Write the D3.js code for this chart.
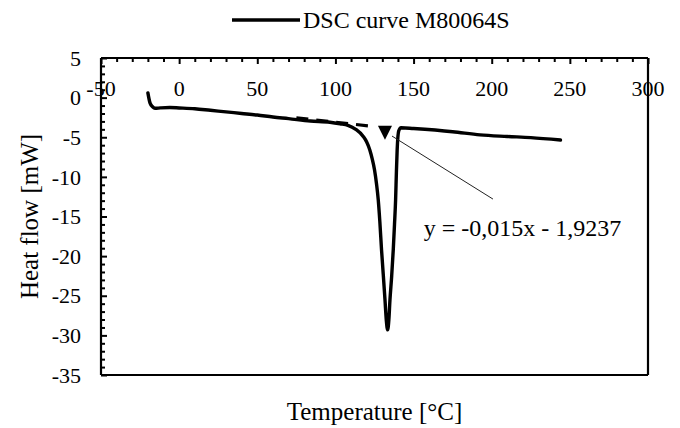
<!DOCTYPE html>
<html>
<head>
<meta charset="utf-8">
<script src="https://cdn.jsdelivr.net/npm/d3@7"></script>
<style>
html,body{margin:0;padding:0;background:#fff;}
svg{display:block;font-family:"Liberation Serif","Times New Roman",serif;}
</style>
</head>
<body>
<svg id="chart" width="680" height="428"></svg>
<script>
// ---- data ----
const temperature = [-20, -18.6, -17, -15.5, -12, -6, 0, 10, 20, 30, 40, 50, 60, 70, 84, 96.5, 103, 108, 113, 117.8, 120, 122, 123.5, 125, 126.3, 127.4, 128.4, 129.5, 130.6, 131.7, 132.6, 133.4, 134.2, 134.9, 136, 137, 137.8, 138.5, 139, 139.5, 140.5, 142, 150, 175, 192.5, 210, 225, 244];
const heatFlow    = [0.6, -0.7, -1.15, -1.35, -1.3, -1.25, -1.3, -1.4, -1.6, -1.8, -2.0, -2.2, -2.45, -2.65, -2.95, -3.1, -3.3, -3.5, -4.0, -4.9, -5.6, -6.6, -7.7, -9.1, -10.9, -12.9, -15.6, -19.2, -22.3, -25.5, -28.2, -29.3, -28, -25.5, -22.5, -19.2, -16, -12.9, -9.5, -6.6, -4.2, -3.8, -3.9, -4.3, -4.7, -4.9, -5.05, -5.35];
const trendX = [75, 125];
const trendY = [-2.55, -3.65];
const markerPoint = [131.7, -4.3];
const leaderFrom = [136.2, -4.85];
const leaderTo = [200.8, -12.8];
const equationAt = [156.5, -17.4];
const xTicks = [-50, 0, 50, 100, 150, 200, 250, 300];
const yTicks = [5, 0, -5, -10, -15, -20, -25, -30, -35];
const seriesName = "DSC curve M80064S";
const equationText = "y = -0,015x - 1,9237";
const xTitle = "Temperature [°C]";
const yTitle = "Heat flow [mW]";

// ---- layout ----
const svg = d3.select("#chart");
const L = 101, R = 648, T = 58, B = 375;
const x = d3.scaleLinear().domain([-50, 300]).range([L, R]);
const y = d3.scaleLinear().domain([-35, 5]).range([B, T]);

// frame (right and bottom)
svg.append("line").attr("x1", R).attr("x2", R).attr("y1", T).attr("y2", B).attr("stroke", "#000").attr("stroke-width", 2.2);
svg.append("line").attr("x1", L).attr("x2", R).attr("y1", B).attr("y2", B).attr("stroke", "#000").attr("stroke-width", 2.2);

// top x axis (ticks inward)
const xMinor = d3.range(-50, 301, 10).filter(v => v % 50 !== 0);
const xAx = svg.append("g").attr("transform", `translate(0,${T})`);
xAx.call(d3.axisBottom(x).tickValues(xTicks).tickSize(6).tickFormat(""));
xAx.append("g").call(d3.axisBottom(x).tickValues(xMinor).tickSize(4).tickFormat(""));
xAx.selectAll(".domain").remove();
xAx.selectAll("line").attr("stroke", "#000").attr("stroke-width", 2);
svg.append("line").attr("x1", L).attr("x2", R).attr("y1", T).attr("y2", T).attr("stroke", "#000").attr("stroke-width", 2.2);
svg.append("g").selectAll("text").data(xTicks).join("text")
  .attr("x", d => x(d)).attr("y", 96)
  .attr("text-anchor", "middle").attr("font-size", 22).attr("fill", "#000")
  .text(d => d);

// left y axis (ticks inward)
const yMinor = d3.range(-35, 5.01, 1).filter(v => v % 5 !== 0);
const yAx = svg.append("g").attr("transform", `translate(${L},0)`);
yAx.call(d3.axisRight(y).tickValues(yTicks).tickSize(6).tickFormat(""));
yAx.append("g").call(d3.axisRight(y).tickValues(yMinor).tickSize(4).tickFormat(""));
yAx.selectAll(".domain").remove();
yAx.selectAll("line").attr("stroke", "#000").attr("stroke-width", 2);
svg.append("line").attr("x1", L).attr("x2", L).attr("y1", T).attr("y2", B).attr("stroke", "#000").attr("stroke-width", 2.2);
svg.append("g").selectAll("text").data(yTicks).join("text")
  .attr("x", 81).attr("y", d => y(d)).attr("dy", "0.35em")
  .attr("text-anchor", "end").attr("font-size", 22).attr("fill", "#000")
  .text(d => d);

// axis titles
svg.append("text").attr("x", (L + R) / 2).attr("y", 420).attr("text-anchor", "middle")
  .attr("font-size", 25).text(xTitle);
svg.append("text").attr("transform", `translate(38,${(T + B) / 2}) rotate(-90)`)
  .attr("text-anchor", "middle").attr("font-size", 25).text(yTitle);

// trendline (dashed)
svg.append("line")
  .attr("x1", x(trendX[0])).attr("y1", y(trendY[0]))
  .attr("x2", x(trendX[1])).attr("y2", y(trendY[1]))
  .attr("stroke", "#000").attr("stroke-width", 3.2).attr("stroke-dasharray", "12,8");

// curve
const pts = temperature.map((t, i) => [t, heatFlow[i]]);
svg.append("path").datum(pts)
  .attr("fill", "none").attr("stroke", "#000").attr("stroke-width", 3.4)
  .attr("stroke-linejoin", "round").attr("stroke-linecap", "round")
  .attr("d", d3.line().x(d => x(d[0])).y(d => y(d[1])).curve(d3.curveMonotoneX));

// marker
const mx = x(markerPoint[0]), my = y(markerPoint[1]);
svg.append("path").attr("d", `M${mx - 7},${my - 6}L${mx + 7},${my - 6}L${mx},${my + 8}Z`).attr("fill", "#000");

// leader line + equation
svg.append("line")
  .attr("x1", x(leaderFrom[0])).attr("y1", y(leaderFrom[1]))
  .attr("x2", x(leaderTo[0])).attr("y2", y(leaderTo[1]))
  .attr("stroke", "#222").attr("stroke-width", 1);
svg.append("text").attr("x", x(equationAt[0])).attr("y", y(equationAt[1]))
  .attr("font-size", 24).text(equationText);

// legend
svg.append("line").attr("x1", 232).attr("x2", 300).attr("y1", 20).attr("y2", 20)
  .attr("stroke", "#000").attr("stroke-width", 3.4);
svg.append("text").attr("x", 303).attr("y", 28).attr("font-size", 24).text(seriesName);
</script>
</body>
</html>
